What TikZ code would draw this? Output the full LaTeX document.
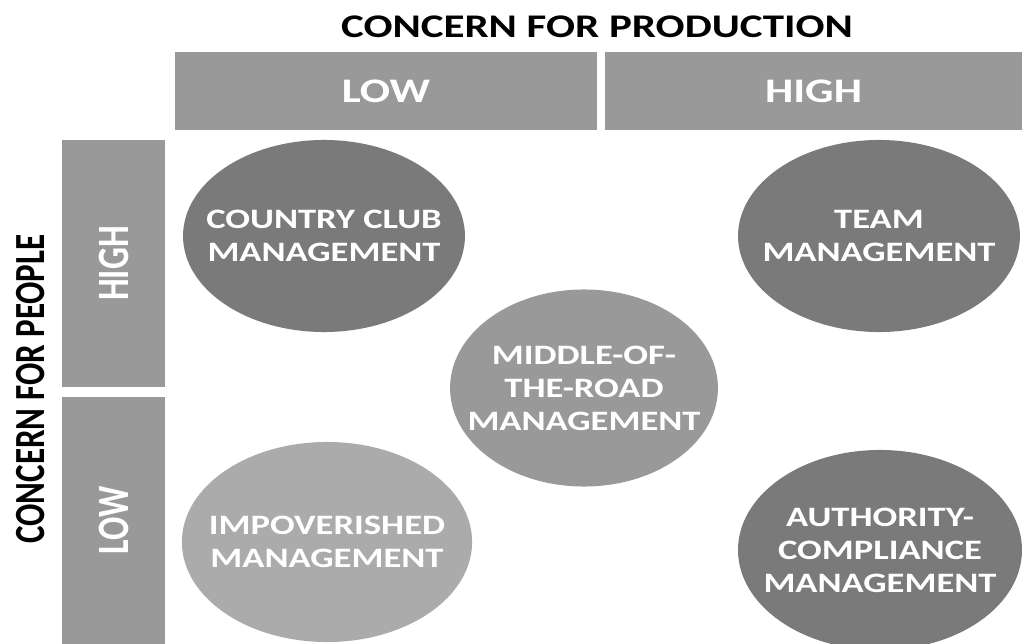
\documentclass[tikz,border=0pt]{standalone}
\usepackage{fontspec}
\setmainfont{Carlito}
\usetikzlibrary{shapes.geometric}
\definecolor{boxgray}{gray}{0.60}
\definecolor{darkell}{gray}{0.48}
\definecolor{midell}{gray}{0.60}
\definecolor{lightell}{gray}{0.67}
\begin{document}
\begin{tikzpicture}[xscale=1.3, x=0.01923cm, y=-0.025cm,
  every node/.style={transform shape, font=\bfseries\fontsize{20}{23.5}\selectfont, align=center, inner sep=0pt},
  axistitle/.style={font=\bfseries\fontsize{23.5}{28}\selectfont},
  hdrbox/.style={fill=boxgray, text=white, font=\bfseries\fontsize{24.5}{28}\selectfont},
  ellbox/.style={ellipse, text=white, inner xsep=-0.6cm, minimum width=5.42cm, minimum height=4.8cm}]
\useasboundingbox (0,0) rectangle (1022,644);
% axis titles
\node[axistitle] (prod) at (597,27) {CONCERN FOR PRODUCTION};
\node[axistitle, rotate=90] (people) at (31,389) {CONCERN FOR PEOPLE};
% header boxes
\node[hdrbox, minimum width=8.115cm, minimum height=1.95cm] (plow) at (386,91) {LOW};
\node[hdrbox, minimum width=8.02cm, minimum height=1.95cm] (phigh) at (813.5,91) {HIGH};
\node[hdrbox, rotate=90, minimum width=6.175cm, minimum height=1.98cm] (hhigh) at (113.5,263.5) {HIGH};
\node[hdrbox, rotate=90, minimum width=6.175cm, minimum height=1.98cm] (hlow) at (113.5,520.5) {LOW};
% styles
\node[ellbox, fill=darkell] (club) at (324,236) {COUNTRY CLUB\\MANAGEMENT};
\node[ellbox, fill=darkell] (team) at (879,236) {TEAM\\MANAGEMENT};
\node[ellbox, fill=midell, minimum width=5.15cm, minimum height=4.925cm] (middle) at (584,388) {MIDDLE-OF-\\THE-ROAD\\MANAGEMENT};
\node[ellbox, fill=lightell, minimum width=5.58cm, minimum height=5cm] (poor) at (327,542) {IMPOVERISHED\\MANAGEMENT};
\node[ellbox, fill=darkell, minimum width=5.46cm, minimum height=5cm] (authority) at (880,550) {AUTHORITY-\\COMPLIANCE\\MANAGEMENT};
\end{tikzpicture}
\end{document}
